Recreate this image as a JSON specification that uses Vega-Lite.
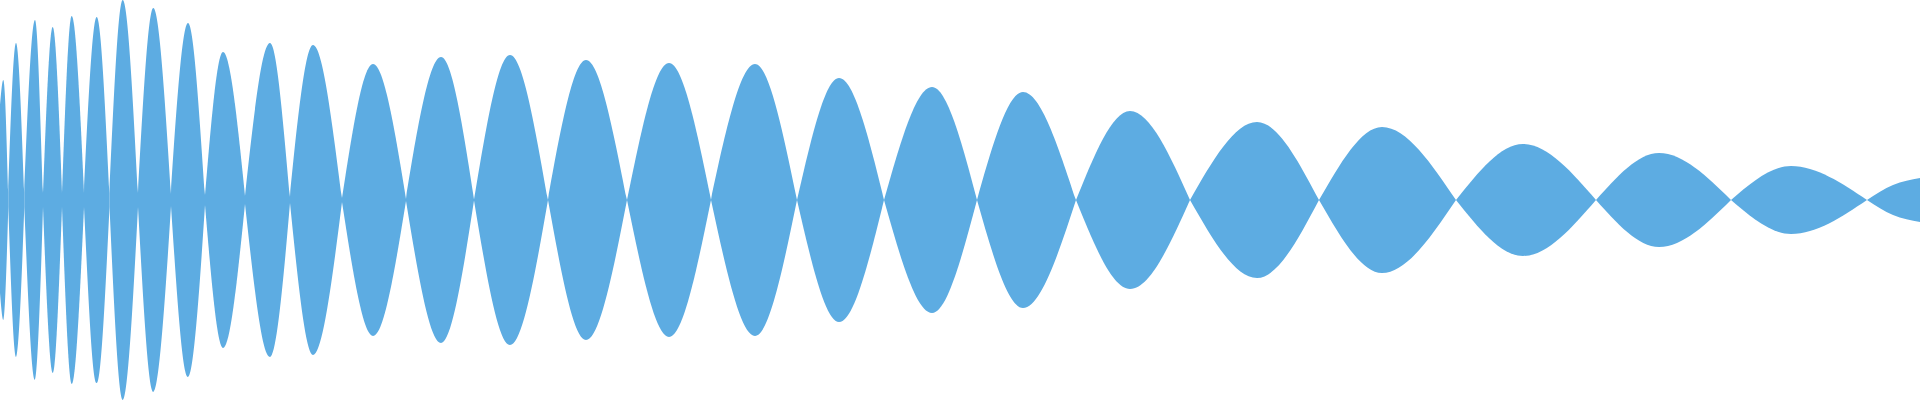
{
  "$schema": "https://vega.github.io/schema/vega-lite/v6.json",
  "width": 1920,
  "height": 400,
  "autosize": {"type": "fit", "contains": "padding"},
  "padding": 0,
  "view": {"stroke": null},
  "data": {"values": [
    {"t": 0, "lobe": 0, "hi": 93, "lo": -93},
    {"t": 3.3, "lobe": 0, "hi": 120, "lo": -120},
    {"t": 8.3, "lobe": 0, "hi": 7, "lo": -7},
    {"t": 8.3, "lobe": 1, "hi": 7, "lo": -7},
    {"t": 16, "lobe": 1, "hi": 157, "lo": -157},
    {"t": 24.3, "lobe": 1, "hi": 7, "lo": -7},
    {"t": 24.3, "lobe": 2, "hi": 7, "lo": -7},
    {"t": 35, "lobe": 2, "hi": 180, "lo": -180},
    {"t": 43, "lobe": 2, "hi": 7, "lo": -7},
    {"t": 43, "lobe": 3, "hi": 7, "lo": -7},
    {"t": 52.7, "lobe": 3, "hi": 173, "lo": -173},
    {"t": 62, "lobe": 3, "hi": 7, "lo": -7},
    {"t": 62, "lobe": 4, "hi": 7, "lo": -7},
    {"t": 71.7, "lobe": 4, "hi": 184, "lo": -184},
    {"t": 84, "lobe": 4, "hi": 7, "lo": -7},
    {"t": 84, "lobe": 5, "hi": 7, "lo": -7},
    {"t": 96.7, "lobe": 5, "hi": 183, "lo": -183},
    {"t": 109.5, "lobe": 5, "hi": 7, "lo": -7},
    {"t": 109.5, "lobe": 6, "hi": 7, "lo": -7},
    {"t": 122.7, "lobe": 6, "hi": 200, "lo": -200},
    {"t": 138, "lobe": 6, "hi": 7, "lo": -7},
    {"t": 138, "lobe": 7, "hi": 7, "lo": -7},
    {"t": 153.3, "lobe": 7, "hi": 192, "lo": -192},
    {"t": 171, "lobe": 7, "hi": 6, "lo": -6},
    {"t": 171, "lobe": 8, "hi": 6, "lo": -6},
    {"t": 188, "lobe": 8, "hi": 177, "lo": -177},
    {"t": 205, "lobe": 8, "hi": 5, "lo": -5},
    {"t": 205, "lobe": 9, "hi": 5, "lo": -5},
    {"t": 223, "lobe": 9, "hi": 148, "lo": -148},
    {"t": 245, "lobe": 9, "hi": 4, "lo": -4},
    {"t": 245, "lobe": 10, "hi": 4, "lo": -4},
    {"t": 270, "lobe": 10, "hi": 157, "lo": -157},
    {"t": 290, "lobe": 10, "hi": 3, "lo": -3},
    {"t": 290, "lobe": 11, "hi": 3, "lo": -3},
    {"t": 313, "lobe": 11, "hi": 155, "lo": -155},
    {"t": 342, "lobe": 11, "hi": 2, "lo": -2},
    {"t": 342, "lobe": 12, "hi": 2, "lo": -2},
    {"t": 373, "lobe": 12, "hi": 136, "lo": -136},
    {"t": 406, "lobe": 12, "hi": 1, "lo": -1},
    {"t": 406, "lobe": 13, "hi": 1, "lo": -1},
    {"t": 441, "lobe": 13, "hi": 143, "lo": -143},
    {"t": 474, "lobe": 13, "hi": 0.5, "lo": -0.5},
    {"t": 474, "lobe": 14, "hi": 0.5, "lo": -0.5},
    {"t": 510, "lobe": 14, "hi": 145, "lo": -145},
    {"t": 548, "lobe": 14, "hi": 0, "lo": 0},
    {"t": 548, "lobe": 15, "hi": 0, "lo": 0},
    {"t": 586, "lobe": 15, "hi": 140, "lo": -140},
    {"t": 627, "lobe": 15, "hi": 0, "lo": 0},
    {"t": 627, "lobe": 16, "hi": 0, "lo": 0},
    {"t": 669, "lobe": 16, "hi": 137, "lo": -137},
    {"t": 711, "lobe": 16, "hi": 0, "lo": 0},
    {"t": 711, "lobe": 17, "hi": 0, "lo": 0},
    {"t": 755, "lobe": 17, "hi": 136, "lo": -136},
    {"t": 797, "lobe": 17, "hi": 0, "lo": 0},
    {"t": 797, "lobe": 18, "hi": 0, "lo": 0},
    {"t": 839, "lobe": 18, "hi": 122, "lo": -122},
    {"t": 884, "lobe": 18, "hi": 0, "lo": 0},
    {"t": 884, "lobe": 19, "hi": 0, "lo": 0},
    {"t": 932, "lobe": 19, "hi": 113, "lo": -113},
    {"t": 977, "lobe": 19, "hi": 0, "lo": 0},
    {"t": 977, "lobe": 20, "hi": 0, "lo": 0},
    {"t": 1023, "lobe": 20, "hi": 108, "lo": -108},
    {"t": 1076, "lobe": 20, "hi": 0, "lo": 0},
    {"t": 1076, "lobe": 21, "hi": 0, "lo": 0},
    {"t": 1130, "lobe": 21, "hi": 89, "lo": -89},
    {"t": 1190, "lobe": 21, "hi": 0, "lo": 0},
    {"t": 1190, "lobe": 22, "hi": 0, "lo": 0},
    {"t": 1257, "lobe": 22, "hi": 78, "lo": -78},
    {"t": 1319, "lobe": 22, "hi": 0, "lo": 0},
    {"t": 1319, "lobe": 23, "hi": 0, "lo": 0},
    {"t": 1382, "lobe": 23, "hi": 73, "lo": -73},
    {"t": 1456, "lobe": 23, "hi": 0, "lo": 0},
    {"t": 1456, "lobe": 24, "hi": 0, "lo": 0},
    {"t": 1523, "lobe": 24, "hi": 56, "lo": -56},
    {"t": 1596, "lobe": 24, "hi": 0, "lo": 0},
    {"t": 1596, "lobe": 25, "hi": 0, "lo": 0},
    {"t": 1659, "lobe": 25, "hi": 47, "lo": -47},
    {"t": 1731, "lobe": 25, "hi": 0, "lo": 0},
    {"t": 1731, "lobe": 26, "hi": 0, "lo": 0},
    {"t": 1791, "lobe": 26, "hi": 34, "lo": -34},
    {"t": 1867, "lobe": 26, "hi": 0, "lo": 0},
    {"t": 1867, "lobe": 27, "hi": 0, "lo": 0},
    {"t": 1893, "lobe": 27, "hi": 15, "lo": -15},
    {"t": 1920, "lobe": 27, "hi": 22, "lo": -22}
  ]},
  "mark": {"type": "area", "interpolate": "monotone", "color": "#5DACE2", "opacity": 1},
  "encoding": {
    "x": {"field": "t", "type": "quantitative", "axis": null,
          "scale": {"domain": [0, 1920], "nice": false, "zero": false}},
    "y": {"field": "hi", "type": "quantitative", "axis": null,
          "scale": {"domain": [-200, 200], "nice": false}},
    "y2": {"field": "lo"},
    "detail": {"field": "lobe", "type": "nominal"}
  }
}
